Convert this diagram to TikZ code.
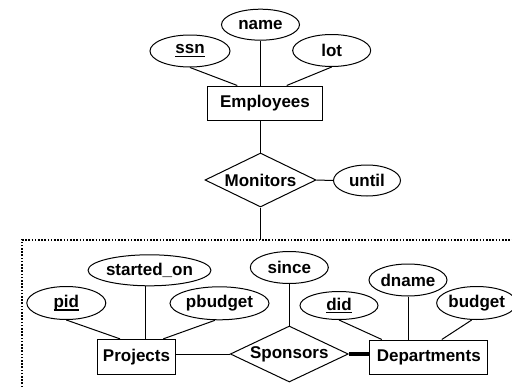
\documentclass[tikz,border=0pt]{standalone}
\usepackage{fontspec}
\setmainfont{Liberation Sans}
\usetikzlibrary{shapes.geometric}
\newcommand{\keyattr}[1]{\setbox0\hbox{#1}\rlap{\rule[-3.2pt]{\wd0}{1.6pt}}\box0}
\begin{document}
\begin{tikzpicture}[x=1pt,y=-1pt,line width=1pt,
  every node/.style={font=\fontsize{17}{20}\selectfont\bfseries, inner sep=0pt},
  attr/.style={draw, ellipse},
  ent/.style={draw, rectangle},
  rel/.style={draw, diamond},
  dotbox/.style={line width=1.6pt, dash pattern=on 1.6pt off 1.6pt}]
\useasboundingbox (0,0) rectangle (512,388);
\clip (0,0) rectangle (512,388);
% top part
\node[attr, minimum width=78pt, minimum height=31pt] (name) at (260.5,24.7) {\raisebox{-5pt}{name}};
\node[attr, minimum width=80pt, minimum height=32pt] (ssn) at (190,51) {\keyattr{ssn}};
\node[attr, minimum width=78pt, minimum height=32pt] (lot) at (331.7,50.5) {lot};
\node[ent, minimum width=115.4pt, minimum height=34pt] (emp) at (265,103) {Employees};
\node[rel, minimum width=111pt, minimum height=54pt, label=center:Monitors] (mon) at (260.5,180) {};
\node[attr, minimum width=67pt, minimum height=31pt] (until) at (367,180.5) {until};
\coordinate (boxtop) at (260.5,240);
\draw (ssn.south) -- ([xshift=-27.7pt]emp.north);
\draw (name.south) -- (name.south |- emp.north);
\draw (lot.south) -- ([xshift=21.7pt]emp.north);
\draw (emp.south -| mon.north) -- (mon.north);
\draw (mon.east) -- (until.west);
\draw (mon.south) -- (boxtop);
% dotted aggregation box
\draw[dotbox] (22,400) -- (22,240) -- (520,240);
% bottom part
\node[attr, minimum width=79pt, minimum height=33pt] (pid) at (66.3,303) {\keyattr{pid}};
\node[attr, minimum width=102pt, minimum height=31pt] (son) at (149.5,270.3) {started\_on};
\node[attr, minimum width=99pt, minimum height=33pt] (pb) at (219.5,303.3) {pbudget};
\node[ent, minimum width=78.4pt, minimum height=34.7pt] (proj) at (136.5,356.7) {Projects};
\node[attr, minimum width=78pt, minimum height=32pt] (since) at (289.3,267.5) {since};
\node[rel, minimum width=118pt, minimum height=56pt, label=center:Sponsors] (spons) at (289.3,354) {};
\node[attr, minimum width=78pt, minimum height=28pt] (did) at (339,305.5) {\keyattr{did}};
\node[attr, minimum width=78pt, minimum height=32pt] (dname) at (408,280) {dname};
\node[attr, minimum width=68pt, minimum height=33pt] (bud) at (476.7,303) {budget};
\node[ent, minimum width=118pt, minimum height=34pt] (dept) at (428.8,357) {Departments};
\draw (pid.south) -- ([xshift=-16.5pt]proj.north);
\draw ([xshift=-4.5pt]son.south) -- ([xshift=8.5pt]proj.north);
\draw ([xshift=-4.5pt]pb.south) -- ([xshift=26.8pt]proj.north);
\draw (spons.west) -- (spons.west -| proj.east);
\draw (since.south) -- (spons.north);
\draw (did.south) -- ([xshift=-47pt]dept.north);
\draw (dname.south) -- (dname.south |- dept.north);
\draw ([xshift=-5pt]bud.south) -- ([xshift=13pt]dept.north);
\draw[line width=4pt] (spons.east) -- (spons.east -| dept.west);
\end{tikzpicture}
\end{document}
